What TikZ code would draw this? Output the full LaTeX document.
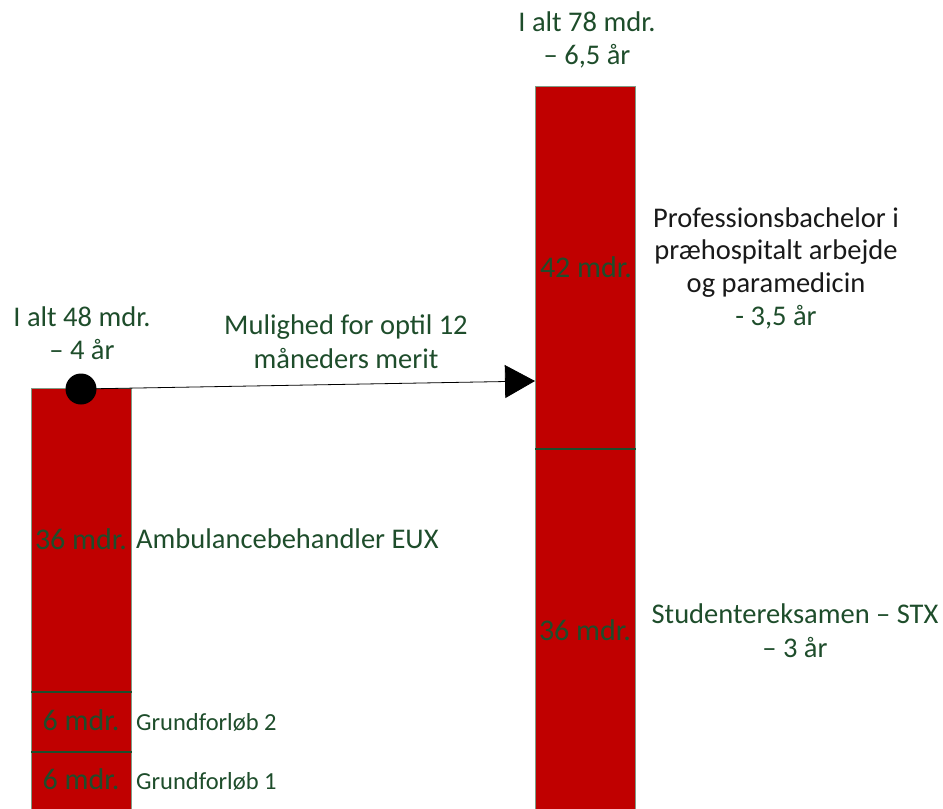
\documentclass[tikz,border=0pt]{standalone}
\usepackage{fontspec}
\setmainfont{Carlito}
\usetikzlibrary{arrows.meta}
\definecolor{barred}{HTML}{C00000}
\definecolor{txtgreen}{HTML}{1E4D2B}
\definecolor{edgegreen}{HTML}{7F9C86}
\begin{document}
\begin{tikzpicture}[x=1pt,y=-1pt,
  seg/.style={draw=edgegreen,line width=0.8pt,fill=barred,minimum width=100pt,inner sep=0pt,anchor=north west},
  divider/.style={draw=txtgreen,line width=1.2pt},
  big/.style={text=txtgreen,font=\fontsize{28.5}{33}\selectfont,inner sep=0pt,anchor=base},
  blk/.style={big,text=black!90},
  small/.style={text=txtgreen,font=\fontsize{24.5}{28}\selectfont,inner sep=0pt,anchor=base west},
  barlbl/.style={text=txtgreen,font=\fontsize{30}{34}\selectfont,inner sep=0pt,anchor=base}]
\useasboundingbox (0,0) rectangle (943,809);
\clip (0,0) rectangle (943,809);
% left bar
\node[seg,minimum height=304pt] (l36) at (31,388) {};
\node[seg,minimum height=60pt] (l6b) at (31,692) {};
\node[seg,minimum height=70pt] (l6a) at (31,752) {};
\draw[divider] (l6b.north west) -- (l6b.north east);
\draw[divider] (l6a.north west) -- (l6a.north east);
% right bar
\node[seg,minimum height=363pt] (r42) at (535,86) {};
\node[seg,minimum height=370pt] (r36) at (535,449) {};
\draw[divider] (r36.north west) -- (r36.north east);
% bar labels
\node[barlbl] (t36l) at (81,549) {36 mdr.};
\node[barlbl] (t6b) at (81,730) {6 mdr.};
\node[barlbl] (t6a) at (81,789) {6 mdr.};
\node[barlbl] (t42) at (586,277) {42 mdr.};
\node[barlbl] (t36r) at (585,640) {36 mdr.};
% side labels
\node[big,anchor=base west] (amb) at (136,548) {Ambulancebehandler EUX};
\node[small] (g2) at (136,730) {Grundforløb 2};
\node[small] (g1) at (136,789) {Grundforløb 1};
\node[big] (tot48a) at (82,326) {I alt 48 mdr.};
\node[big] (tot48b) at (82,359) {– 4 år};
\node[big] (tot78a) at (587,31) {I alt 78 mdr.};
\node[big] (tot78b) at (587,64) {– 6,5 år};
\node[blk] (prof1) at (776,227) {Professionsbachelor i};
\node[blk] (prof2) at (776,259) {præhospitalt arbejde};
\node[blk] (prof3) at (776,292) {og paramedicin};
\node[big] (prof4) at (776,325) {- 3,5 år};
\node[big] (stx1) at (795,623) {Studentereksamen – STX};
\node[big] (stx2) at (795,657) {– 3 år};
\node[big] (merit1) at (346,334) {Mulighed for optil 12};
\node[big] (merit2) at (346,368) {måneders merit};
% connector
\node[circle,fill=black,minimum size=31pt,inner sep=0pt] (dot) at (81,389) {};
\coordinate (tip) at (535,381);
\draw[line width=0.8pt,-{Triangle[length=30pt,width=33pt]}] (dot.center) -- (tip);
\end{tikzpicture}
\end{document}
